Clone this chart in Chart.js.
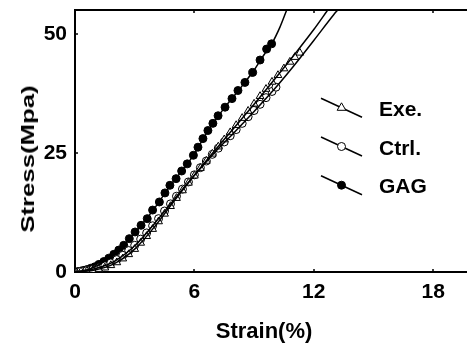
<!DOCTYPE html>
<html><head><meta charset="utf-8">
<script src="https://cdn.jsdelivr.net/npm/chart.js@4/dist/chart.umd.min.js"></script>
<style>
html,body{margin:0;padding:0;background:#fff;}
#wrap{position:relative;width:467px;height:350px;overflow:hidden;}
#c{position:absolute;left:0;top:0;width:467px;height:350px;}
.ttl{position:absolute;font-family:"Liberation Sans",Arial,sans-serif;font-weight:bold;color:#000;white-space:nowrap;line-height:1;}
#xt{left:264px;top:331px;font-size:22px;transform:translate(-50%,-50%);}
#yt{left:28px;top:159px;font-size:18px;transform:translate(-50%,-50%) rotate(-90deg) scaleX(1.43);}
</style></head><body>
<div id="wrap">
<canvas id="c" width="467" height="350"></canvas>
<div id="xt" class="ttl">Strain(%)</div>
<div id="yt" class="ttl">Stress(Mpa)</div>
</div>
<script>
const xTicks=[0,6,12,18];
const yTicks=[0,25,50];
const seriesNames=['Exe.','Ctrl.','GAG'];

const exeStrain=[0,0.3,0.6,0.9,1.2,1.5,1.8,2.1,2.4,2.7,3.0,3.3,3.6,3.9,4.2,4.5,4.8,5.1,5.4,5.7,6.0,6.3,6.6,6.9,7.2,7.5,7.8,8.1,8.4,8.7,9.0,9.3,9.6,9.9,10.2,10.5,10.8,11.05,11.3];
const exeStress=[0,0.1,0.2,0.35,0.6,0.9,1.4,2.0,2.8,3.7,4.8,6.1,7.5,9.0,10.6,12.2,13.8,15.5,17.1,18.7,20.2,21.8,23.3,24.8,26.3,27.8,29.3,30.8,32.3,33.8,35.3,36.9,38.4,39.9,41.3,42.7,44.1,45.1,46.0];
const exeFitStrain=[0,1,2,3,4,5,6,7,8,9,10,11,12,12.7];
const exeFitStress=[0,0.4,1.8,4.8,9.5,15.0,20.3,25.4,30.3,35.2,40.3,45.5,50.9,55];

const ctrlStrain=[0,0.3,0.6,0.9,1.2,1.5,1.8,2.1,2.4,2.7,3.0,3.3,3.6,3.9,4.2,4.5,4.8,5.1,5.4,5.7,6.0,6.3,6.6,6.9,7.2,7.5,7.8,8.1,8.4,8.7,9.0,9.3,9.6,9.9,10.1];
const ctrlStress=[0,0.15,0.3,0.55,0.9,1.3,1.9,2.6,3.5,4.5,5.6,6.9,8.2,9.7,11.2,12.8,14.3,15.9,17.4,18.9,20.4,21.9,23.3,24.7,26.0,27.3,28.6,29.9,31.2,32.6,33.9,35.2,36.6,37.9,38.8];
const ctrlFitStrain=[0,1,2,3,4,5,6,7,8,9,10,11,12,13,13.2];
const ctrlFitStress=[0,0.7,2.3,5.5,10.2,15.3,20.3,25.0,29.3,33.7,38.3,43.3,48.6,54.0,55];

const gagStrain=[0,0.15,0.3,0.45,0.6,0.8,1.0,1.2,1.45,1.7,1.95,2.2,2.45,2.73,3.02,3.32,3.63,3.9,4.24,4.52,4.77,5.08,5.36,5.64,5.95,6.18,6.43,6.68,6.93,7.19,7.54,7.89,8.19,8.54,8.93,9.3,9.63,9.88];
const gagStress=[0,0.1,0.2,0.35,0.5,0.8,1.1,1.6,2.2,2.9,3.7,4.6,5.6,7.0,8.4,9.8,11.2,13.0,14.7,16.6,18.2,19.6,21.2,22.7,24.5,26.2,28.0,29.7,31.2,32.8,34.6,36.4,38.1,39.8,41.9,44.5,46.8,47.9];
const gagFitStrain=[0,0.5,1,1.5,2,2.5,3,3.5,4,4.5,5,5.5,6,6.5,7,7.5,8,8.5,9,9.5,9.9,10.3,10.64];
const gagFitStress=[0,0.3,1.1,2.3,3.9,5.8,8.2,10.7,13.4,16.4,19.3,21.9,24.8,28.4,31.6,34.4,37.0,39.6,42.4,45.6,48.0,51.4,55];

const pts=(xs,ys)=>xs.map((v,i)=>({x:v,y:ys[i]}));
const FONT='"Liberation Sans", Arial, sans-serif';

function marker(ctx,style,fill,x,y,r){
  ctx.save();
  ctx.lineWidth=1;ctx.strokeStyle='#000';ctx.fillStyle=fill;
  ctx.beginPath();
  if(style==='triangle'){
    ctx.moveTo(x,y-r);ctx.lineTo(x+r*0.87,y+r*0.5);ctx.lineTo(x-r*0.87,y+r*0.5);ctx.closePath();
  }else{ctx.arc(x,y,r,0,Math.PI*2);}
  ctx.fill();ctx.stroke();ctx.restore();
}

const legendStyles=[['triangle','#fff'],['circle','#fff'],['circle','#000']];

const frame={id:'frame',afterDraw(chart){
  const {ctx,chartArea:a,scales:{x,y}}=chart;
  ctx.save();
  ctx.strokeStyle='#000';
  ctx.lineWidth=2;
  ctx.beginPath();ctx.moveTo(a.left-1,a.top);ctx.lineTo(a.right,a.top);ctx.stroke();
  ctx.lineWidth=1.5;
  xTicks.forEach(v=>{const px=Math.round(x.getPixelForValue(v));
    ctx.beginPath();ctx.moveTo(px,a.bottom);ctx.lineTo(px,a.bottom-3);
    ctx.moveTo(px,a.top);ctx.lineTo(px,a.top+3);ctx.stroke();});
  yTicks.forEach(v=>{const py=Math.round(y.getPixelForValue(v));
    ctx.beginPath();ctx.moveTo(a.left,py);ctx.lineTo(a.left+3,py);ctx.stroke();});
  // legend
  const lx=a.left+246, ly0=a.top+88.3, dy=38.7;
  seriesNames.forEach((n,i)=>{
    const ry=ly0+i*dy;
    ctx.lineWidth=1.5;ctx.strokeStyle='#000';
    ctx.beginPath();ctx.moveTo(lx,ry);ctx.lineTo(lx+41,ry+19);ctx.stroke();
    marker(ctx,legendStyles[i][0],legendStyles[i][1],lx+20.5,ry+9.5,legendStyles[i][0]==='triangle'?5:4);
    ctx.fillStyle='#000';ctx.font='bold 21px '+FONT;ctx.textBaseline='alphabetic';ctx.textAlign='left';
    ctx.fillText(n,a.left+304,ry+17.7);
  });
  ctx.restore();
}};

const tickFont={family:FONT,size:21,weight:'bold'};
new Chart(document.getElementById('c'),{
  type:'scatter',
  data:{datasets:[
    {label:'Exe. fit',data:pts(exeFitStrain,exeFitStress),showLine:true,pointRadius:0,borderColor:'#000',borderWidth:1.5,cubicInterpolationMode:'monotone',fill:false},
    {label:'Ctrl. fit',data:pts(ctrlFitStrain,ctrlFitStress),showLine:true,pointRadius:0,borderColor:'#000',borderWidth:1.5,cubicInterpolationMode:'monotone',fill:false},
    {label:'GAG fit',data:pts(gagFitStrain,gagFitStress),showLine:true,pointRadius:0,borderColor:'#000',borderWidth:1.5,cubicInterpolationMode:'monotone',fill:false},
    {label:'Exe.',data:pts(exeStrain,exeStress),showLine:false,pointStyle:'triangle',pointRadius:4.5,pointBackgroundColor:'#fff',pointBorderColor:'#000',pointBorderWidth:1},
    {label:'Ctrl.',data:pts(ctrlStrain,ctrlStress),showLine:false,pointStyle:'circle',pointRadius:4,pointBackgroundColor:'#fff',pointBorderColor:'#000',pointBorderWidth:1},
    {label:'GAG',data:pts(gagStrain,gagStress),showLine:false,pointStyle:'circle',pointRadius:4,pointBackgroundColor:'#000',pointBorderColor:'#000',pointBorderWidth:1}
  ]},
  options:{
    responsive:false,animation:false,devicePixelRatio:1,
    layout:{padding:{top:10,right:0,bottom:0,left:0},autoPadding:false},
    plugins:{legend:{display:false},tooltip:{enabled:false}},
    scales:{
      x:{type:'linear',position:'bottom',min:0,max:19.7,
        afterBuildTicks:s=>{s.ticks=xTicks.map(v=>({value:v}));},
        afterFit:s=>{s.height=78;s.paddingRight=0;s.paddingLeft=0;},
        grid:{display:false,drawTicks:false},
        border:{display:true,color:'#000',width:2},
        ticks:{color:'#000',font:tickFont,padding:8,maxRotation:0,autoSkip:false}},
      y:{type:'linear',position:'left',min:0,max:55,
        afterBuildTicks:s=>{s.ticks=yTicks.map(v=>({value:v}));},
        afterFit:s=>{s.width=75;s.paddingTop=0;s.paddingBottom=0;},
        grid:{display:false,drawTicks:false},
        border:{display:true,color:'#000',width:2},
        ticks:{color:'#000',font:tickFont,padding:8,autoSkip:false}}
    }
  },
  plugins:[frame]
});
</script>
</body></html>
